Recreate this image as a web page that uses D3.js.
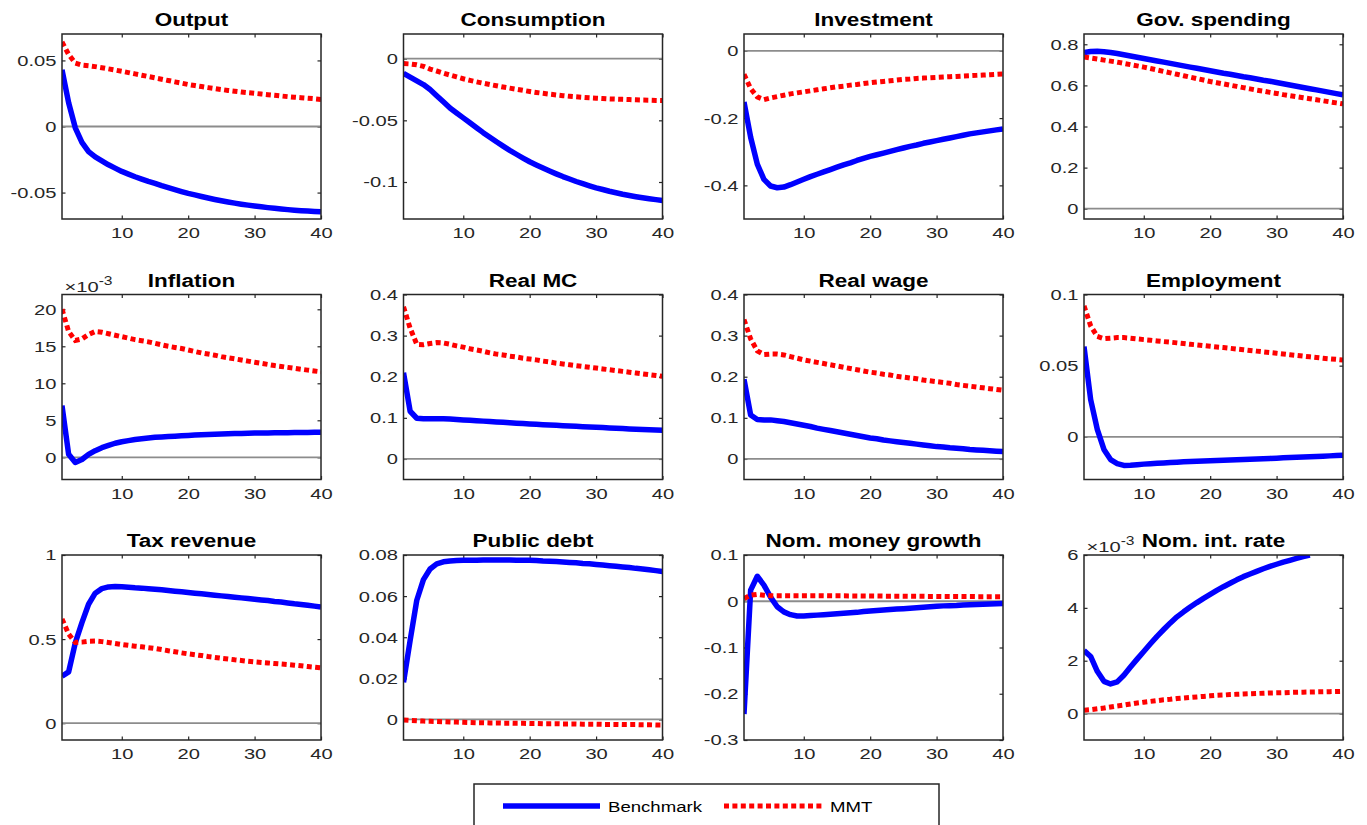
<!DOCTYPE html>
<html>
<head>
<meta charset="utf-8">
<script src="https://cdn.jsdelivr.net/npm/d3@7"></script>
<style>
  body { margin: 0; background: #fff; }
  text { font-family: "Liberation Sans", Arial, Helvetica, sans-serif; }
</style>
</head>
<body>
<div id="canvas"></div>
<script>
// periods on the x axis (quarters after the shock)
const periods = d3.range(1, 41);
const xTicks = [10, 20, 30, 40];

const titles = ["Output", "Consumption", "Investment", "Gov. spending",
                "Inflation", "Real MC", "Real wage", "Employment",
                "Tax revenue", "Public debt", "Nom. money growth", "Nom. int. rate"];
const seriesNames = ["Benchmark", "MMT"];

// y limits and tick labels per panel (same order as titles)
const yDomains = [[-0.07, 0.07], [-0.13, 0.02], [-0.5, 0.05], [-0.05, 0.85],
                  [-3, 22], [-0.05, 0.4], [-0.05, 0.4], [-0.03, 0.1],
                  [-0.1, 1], [-0.01, 0.08], [-0.3, 0.1], [-1, 6]];
const yTicks = [[-0.05, 0, 0.05], [-0.1, -0.05, 0], [-0.4, -0.2, 0], [0, 0.2, 0.4, 0.6, 0.8],
                [0, 5, 10, 15, 20], [0, 0.1, 0.2, 0.3, 0.4], [0, 0.1, 0.2, 0.3, 0.4], [0, 0.05, 0.1],
                [0, 0.5, 1], [0, 0.02, 0.04, 0.06, 0.08], [-0.3, -0.2, -0.1, 0, 0.1], [0, 2, 4, 6]];
const yExponent = [null, null, null, null, "-3", null, null, null, null, null, null, "-3"];

// impulse responses, Benchmark vs MMT
const outputBench = [0.043, 0.018, -0.001, -0.012, -0.019, -0.023, -0.026, -0.029, -0.0315, -0.034,
  -0.036, -0.038, -0.0398, -0.0415, -0.043, -0.0447, -0.0462, -0.0477, -0.0492, -0.0506,
  -0.0518, -0.053, -0.0541, -0.0552, -0.0562, -0.0571, -0.058, -0.0588, -0.0595, -0.0602,
  -0.0608, -0.0614, -0.0619, -0.0624, -0.0629, -0.0633, -0.0637, -0.064, -0.0643, -0.0646];
const outputMMT = [0.064, 0.0545, 0.048, 0.0465, 0.046, 0.0453, 0.0445, 0.0436, 0.0427, 0.0418,
  0.0408, 0.0398, 0.0388, 0.0378, 0.0368, 0.0358, 0.0348, 0.0338, 0.0328, 0.0318,
  0.031, 0.0302, 0.0294, 0.0287, 0.028, 0.0273, 0.0267, 0.0261, 0.0256, 0.0251,
  0.0246, 0.0241, 0.0236, 0.0231, 0.0226, 0.0222, 0.0218, 0.0214, 0.021, 0.0205];

const consBench = [-0.012, -0.015, -0.018, -0.021, -0.025, -0.030, -0.035, -0.040, -0.044, -0.048,
  -0.052, -0.056, -0.060, -0.0637, -0.0674, -0.0709, -0.0743, -0.0775, -0.0806, -0.0836,
  -0.0862, -0.0887, -0.0911, -0.0934, -0.0956, -0.0976, -0.0996, -0.1014, -0.1031, -0.1047,
  -0.1061, -0.1075, -0.1087, -0.1099, -0.1109, -0.1119, -0.1128, -0.1136, -0.1143, -0.115];
const consMMT = [-0.004, -0.0043, -0.005, -0.0062, -0.0084, -0.010, -0.0117, -0.0133, -0.0148, -0.0163,
  -0.0176, -0.0188, -0.0199, -0.021, -0.022, -0.023, -0.0239, -0.0248, -0.0257, -0.0266,
  -0.0274, -0.0281, -0.0288, -0.0294, -0.030, -0.0305, -0.0309, -0.0313, -0.0317, -0.032,
  -0.0323, -0.0326, -0.0328, -0.033, -0.0332, -0.0334, -0.0336, -0.0337, -0.0339, -0.034];

const invBench = [-0.152, -0.257, -0.337, -0.382, -0.402, -0.407, -0.405, -0.398, -0.39, -0.382,
  -0.374, -0.367, -0.36, -0.353, -0.346, -0.339, -0.333, -0.326, -0.32, -0.314,
  -0.309, -0.304, -0.299, -0.294, -0.289, -0.284, -0.28, -0.275, -0.271, -0.267,
  -0.263, -0.259, -0.255, -0.251, -0.247, -0.244, -0.241, -0.238, -0.235, -0.232];
const invMMT = [-0.07, -0.112, -0.137, -0.145, -0.14, -0.136, -0.132, -0.128, -0.125, -0.122,
  -0.119, -0.116, -0.113, -0.11, -0.107, -0.105, -0.102, -0.1, -0.097, -0.095,
  -0.093, -0.091, -0.089, -0.087, -0.085, -0.084, -0.082, -0.081, -0.08, -0.079,
  -0.078, -0.077, -0.076, -0.075, -0.074, -0.073, -0.072, -0.071, -0.07, -0.069];

const govBench = [0.76, 0.765, 0.766, 0.764, 0.76, 0.755, 0.749, 0.743, 0.737, 0.731,
  0.725, 0.719, 0.713, 0.707, 0.701, 0.695, 0.689, 0.683, 0.677, 0.671,
  0.665, 0.659, 0.654, 0.648, 0.642, 0.637, 0.631, 0.625, 0.62, 0.614,
  0.608, 0.602, 0.596, 0.59, 0.584, 0.578, 0.572, 0.566, 0.56, 0.554];
const govMMT = [0.738, 0.733, 0.728, 0.723, 0.718, 0.713, 0.707, 0.701, 0.695, 0.689,
  0.682, 0.675, 0.668, 0.661, 0.654, 0.647, 0.64, 0.633, 0.626, 0.619,
  0.613, 0.607, 0.601, 0.595, 0.589, 0.583, 0.577, 0.572, 0.566, 0.561,
  0.555, 0.55, 0.545, 0.54, 0.535, 0.53, 0.525, 0.52, 0.515, 0.51];

// inflation and nominal rate in units of 1e-3
const inflBench = [7.0, 0.4, -0.7, -0.3, 0.4, 0.9, 1.3, 1.6, 1.9, 2.1,
  2.25, 2.4, 2.5, 2.6, 2.7, 2.75, 2.8, 2.85, 2.9, 2.95,
  3.0, 3.04, 3.08, 3.12, 3.15, 3.18, 3.21, 3.23, 3.25, 3.27,
  3.29, 3.3, 3.31, 3.32, 3.33, 3.34, 3.35, 3.36, 3.37, 3.38];
const inflMMT = [20.0, 17.0, 15.8, 16.0, 16.6, 17.0, 16.9, 16.7, 16.5, 16.3,
  16.1, 15.9, 15.75, 15.6, 15.4, 15.2, 15.0, 14.85, 14.7, 14.5,
  14.3, 14.1, 13.95, 13.8, 13.6, 13.45, 13.3, 13.15, 13.0, 12.85,
  12.7, 12.55, 12.4, 12.28, 12.15, 12.03, 11.9, 11.78, 11.66, 11.55];

const mcBench = [0.21, 0.116, 0.099, 0.098, 0.098, 0.098, 0.098, 0.097, 0.096, 0.095,
  0.094, 0.093, 0.092, 0.091, 0.09, 0.089, 0.088, 0.087, 0.086, 0.085,
  0.0842, 0.0834, 0.0826, 0.0818, 0.081, 0.0802, 0.0794, 0.0786, 0.0778, 0.077,
  0.0762, 0.0754, 0.0746, 0.0738, 0.073, 0.0723, 0.0716, 0.0709, 0.0702, 0.0695];
const mcMMT = [0.37, 0.318, 0.279, 0.278, 0.281, 0.283, 0.282, 0.279, 0.275, 0.272,
  0.268, 0.265, 0.262, 0.258, 0.255, 0.253, 0.25, 0.248, 0.245, 0.243,
  0.241, 0.238, 0.236, 0.233, 0.231, 0.229, 0.227, 0.225, 0.223, 0.221,
  0.219, 0.217, 0.215, 0.213, 0.211, 0.209, 0.207, 0.205, 0.203, 0.201];

const wageBench = [0.194, 0.107, 0.096, 0.095, 0.095, 0.093, 0.091, 0.088, 0.085, 0.082,
  0.079, 0.075, 0.072, 0.069, 0.066, 0.063, 0.06, 0.057, 0.054, 0.051,
  0.049, 0.046, 0.044, 0.042, 0.04, 0.038, 0.036, 0.034, 0.032, 0.03,
  0.029, 0.027, 0.026, 0.025, 0.023, 0.022, 0.021, 0.02, 0.019, 0.018];
const wageMMT = [0.339, 0.292, 0.263, 0.254, 0.255, 0.255, 0.253, 0.249, 0.245, 0.241,
  0.238, 0.235, 0.232, 0.229, 0.226, 0.223, 0.22, 0.217, 0.214, 0.211,
  0.209, 0.206, 0.204, 0.201, 0.199, 0.197, 0.195, 0.192, 0.19, 0.188,
  0.186, 0.184, 0.181, 0.179, 0.177, 0.175, 0.173, 0.171, 0.169, 0.167];

const empBench = [0.0634, 0.0262, 0.0052, -0.0089, -0.016, -0.0188, -0.0201, -0.0200, -0.0196, -0.0192,
  -0.0189, -0.0186, -0.0184, -0.0181, -0.0178, -0.0176, -0.0174, -0.0172, -0.017, -0.0168,
  -0.0166, -0.0165, -0.0163, -0.0162, -0.016, -0.0158, -0.0156, -0.0154, -0.0152, -0.015,
  -0.0148, -0.0146, -0.0144, -0.0142, -0.014, -0.0138, -0.0136, -0.0134, -0.0132, -0.013];
const empMMT = [0.092, 0.078, 0.0705, 0.069, 0.0693, 0.0697, 0.0697, 0.0693, 0.0688, 0.0683,
  0.0679, 0.0674, 0.0669, 0.0665, 0.066, 0.0655, 0.065, 0.0646, 0.0641, 0.0636,
  0.0631, 0.0627, 0.0622, 0.0617, 0.0612, 0.0607, 0.0602, 0.0597, 0.0592, 0.0587,
  0.0582, 0.0577, 0.0572, 0.0567, 0.0562, 0.0557, 0.0552, 0.0548, 0.0544, 0.054];

const taxBench = [0.279, 0.305, 0.478, 0.598, 0.707, 0.773, 0.800, 0.810, 0.813, 0.811,
  0.808, 0.805, 0.803, 0.8, 0.797, 0.793, 0.789, 0.785, 0.781, 0.777,
  0.773, 0.769, 0.765, 0.761, 0.757, 0.753, 0.749, 0.745, 0.741, 0.737,
  0.733, 0.729, 0.724, 0.72, 0.715, 0.71, 0.706, 0.701, 0.696, 0.691];
const taxMMT = [0.62, 0.53, 0.48, 0.482, 0.487, 0.488, 0.485, 0.48, 0.474, 0.468,
  0.463, 0.458, 0.454, 0.449, 0.444, 0.438, 0.431, 0.425, 0.418, 0.412,
  0.407, 0.402, 0.396, 0.391, 0.386, 0.382, 0.377, 0.373, 0.368, 0.364,
  0.361, 0.358, 0.355, 0.352, 0.349, 0.345, 0.341, 0.337, 0.333, 0.329];

const debtBench = [0.018, 0.0385, 0.058, 0.068, 0.0732, 0.0757, 0.0767, 0.0771, 0.0773, 0.0774,
  0.0775, 0.0775, 0.0776, 0.0776, 0.0776, 0.0776, 0.0776, 0.0775, 0.0775, 0.0774,
  0.0773, 0.0771, 0.077, 0.0768, 0.0766, 0.0764, 0.0762, 0.0759, 0.0757, 0.0754,
  0.0751, 0.0748, 0.0745, 0.0742, 0.0739, 0.0735, 0.0732, 0.0728, 0.0724, 0.072];
const debtMMT = [-0.0003, -0.0005, -0.0006, -0.0008, -0.0009, -0.001, -0.0011, -0.0012, -0.0013, -0.0014,
  -0.0015, -0.0016, -0.0016, -0.0017, -0.0017, -0.0018, -0.0018, -0.0019, -0.0019, -0.002,
  -0.002, -0.0021, -0.0021, -0.0021, -0.0022, -0.0022, -0.0022, -0.0023, -0.0023, -0.0023,
  -0.0024, -0.0024, -0.0024, -0.0025, -0.0025, -0.0025, -0.0026, -0.0026, -0.0027, -0.0027];

const moneyBench = [-0.244, 0.024, 0.054, 0.035, 0.009, -0.012, -0.023, -0.029, -0.032, -0.032,
  -0.031, -0.030, -0.029, -0.028, -0.027, -0.026, -0.025, -0.024, -0.022, -0.021,
  -0.020, -0.019, -0.018, -0.017, -0.016, -0.015, -0.014, -0.013, -0.012, -0.011,
  -0.010, -0.0095, -0.009, -0.008, -0.0075, -0.007, -0.0065, -0.006, -0.0055, -0.005];
const moneyMMT = [0.006, 0.013, 0.015, 0.013, 0.012, 0.012, 0.012, 0.012, 0.012, 0.012,
  0.012, 0.012, 0.012, 0.0118, 0.0118, 0.0117, 0.0116, 0.0115, 0.0114, 0.0113,
  0.0112, 0.0111, 0.011, 0.011, 0.0109, 0.0108, 0.0107, 0.0106, 0.0105, 0.0104,
  0.0103, 0.0102, 0.0102, 0.0101, 0.0101, 0.01, 0.01, 0.01, 0.01, 0.01];

const rateBench = [2.39, 2.16, 1.6, 1.22, 1.12, 1.2, 1.45, 1.76, 2.06, 2.35,
  2.64, 2.92, 3.18, 3.43, 3.66, 3.85, 4.03, 4.2, 4.36, 4.51,
  4.66, 4.8, 4.93, 5.06, 5.18, 5.28, 5.38, 5.48, 5.57, 5.65,
  5.73, 5.8, 5.87, 5.94, 6.0, 6.05, 6.1, 6.15, 6.19, 6.23];
const rateMMT = [0.13, 0.15, 0.18, 0.21, 0.25, 0.29, 0.32, 0.36, 0.4, 0.43,
  0.46, 0.49, 0.52, 0.54, 0.57, 0.59, 0.61, 0.63, 0.65, 0.67,
  0.69, 0.7, 0.72, 0.73, 0.74, 0.75, 0.76, 0.77, 0.78, 0.785,
  0.79, 0.8, 0.805, 0.81, 0.815, 0.82, 0.825, 0.83, 0.835, 0.84];

const benchSeries = [outputBench, consBench, invBench, govBench, inflBench, mcBench,
                     wageBench, empBench, taxBench, debtBench, moneyBench, rateBench];
const mmtSeries = [outputMMT, consMMT, invMMT, govMMT, inflMMT, mcMMT,
                   wageMMT, empMMT, taxMMT, debtMMT, moneyMMT, rateMMT];

// layout
const width = 1367, height = 825;
const pw = 259, ph = 185;
const colLeft = [62, 403.5, 744, 1084];
const rowTop = [34, 294.5, 555];
const SX = 1.3;           // text in the picture is stretched horizontally
const tickLen = 3.5;
const colors = { bench: "#0000ff", mmt: "#ff0000" };

const svg = d3.select("#canvas").append("svg")
  .attr("width", width).attr("height", height);

const fmt = v => d3.format("~g")(v).replace("\u2212", "-");

titles.forEach((title, i) => {
  const col = i % 4, row = Math.floor(i / 4);
  const g = svg.append("g").attr("transform", `translate(${colLeft[col]},${rowTop[row]})`);

  const x = d3.scaleLinear().domain([1, 40]).range([0, pw]);
  const y = d3.scaleLinear().domain(yDomains[i]).range([ph, 0]);
  const [ymin, ymax] = yDomains[i];

  g.append("clipPath").attr("id", "clip" + i)
    .append("rect").attr("width", pw).attr("height", ph);

  // axes on four sides, ticks pointing inwards
  const xb = g.append("g").attr("transform", `translate(0,${ph})`)
    .call(d3.axisBottom(x).tickValues(xTicks).tickSizeInner(-tickLen).tickSizeOuter(0).tickPadding(8.5));
  g.append("g")
    .call(d3.axisTop(x).tickValues(xTicks).tickSizeInner(-tickLen).tickSizeOuter(0).tickFormat(""));
  const yl = g.append("g")
    .call(d3.axisLeft(y).tickValues(yTicks[i]).tickSizeInner(-tickLen).tickSizeOuter(0).tickFormat(fmt));
  g.append("g").attr("transform", `translate(${pw},0)`)
    .call(d3.axisRight(y).tickValues(yTicks[i]).tickSizeInner(-tickLen).tickSizeOuter(0).tickFormat(""));

  g.selectAll(".domain").remove();
  g.selectAll(".tick line").attr("stroke", "#262626").attr("stroke-width", 1.2);
  g.selectAll(".tick text").attr("fill", "#262626")
    .style("font-size", "15.5px").style("font-family", '"Liberation Sans", Arial, sans-serif');
  xb.selectAll(".tick text").attr("transform", `scale(${SX},1)`);
  yl.selectAll(".tick text").attr("x", null).attr("transform", `translate(-5.5,0) scale(${SX},1)`);

  const plot = g.append("g").attr("clip-path", `url(#clip${i})`);

  // zero reference line
  plot.append("line")
    .attr("x1", x(1)).attr("x2", x(40))
    .attr("y1", y(0)).attr("y2", y(0))
    .attr("stroke", "#8c8c8c").attr("stroke-width", 1.8);

  // points outside the y limits are dropped, as in the original figure
  const line = d3.line()
    .defined(d => d >= ymin - 1e-9 && d <= ymax + 1e-9)
    .x((d, k) => x(periods[k])).y(d => y(d));

  plot.append("path").datum(benchSeries[i])
    .attr("d", line).attr("fill", "none")
    .attr("stroke", colors.bench).attr("stroke-width", 5.5)
    .attr("stroke-linejoin", "round");

  plot.append("path").datum(mmtSeries[i])
    .attr("d", line).attr("fill", "none")
    .attr("stroke", colors.mmt).attr("stroke-width", 5)
    .attr("stroke-dasharray", "5,3.4");

  // box
  g.append("rect").attr("width", pw).attr("height", ph)
    .attr("fill", "none").attr("stroke", "#262626").attr("stroke-width", 1.5);

  // title
  g.append("text")
    .attr("transform", `translate(${pw / 2},-8) scale(1.25,1)`)
    .attr("text-anchor", "middle")
    .style("font-size", "18px").style("font-weight", "bold")
    .attr("fill", "#000")
    .text(title);

  // exponent label (x10^-3)
  if (yExponent[i]) {
    const t = g.append("text")
      .attr("transform", `translate(2.5,-3) scale(${SX},1)`)
      .attr("fill", "#262626")
      .style("font-size", "15.5px");
    t.append("tspan").text("\u00d710");
    t.append("tspan").attr("dy", -7).style("font-size", "12px").text(yExponent[i]);
  }
});

// legend
const leg = svg.append("g");
leg.append("rect")
  .attr("x", 474).attr("y", 784).attr("width", 465).attr("height", 60)
  .attr("fill", "#fff").attr("stroke", "#262626").attr("stroke-width", 1.5);

const legItems = [
  { name: seriesNames[0], color: colors.bench, dash: null, w: 5.5, x0: 503, x1: 600, tx: 608 },
  { name: seriesNames[1], color: colors.mmt, dash: "5,3.4", w: 5, x0: 724, x1: 822, tx: 830 }
];
legItems.forEach(d => {
  leg.append("line")
    .attr("x1", d.x0).attr("x2", d.x1).attr("y1", 806).attr("y2", 806)
    .attr("stroke", d.color).attr("stroke-width", d.w)
    .attr("stroke-dasharray", d.dash);
  leg.append("text")
    .attr("transform", `translate(${d.tx},811.5) scale(1.2,1)`)
    .attr("fill", "#000")
    .style("font-size", "15.5px")
    .text(d.name);
});
</script>
</body>
</html>
